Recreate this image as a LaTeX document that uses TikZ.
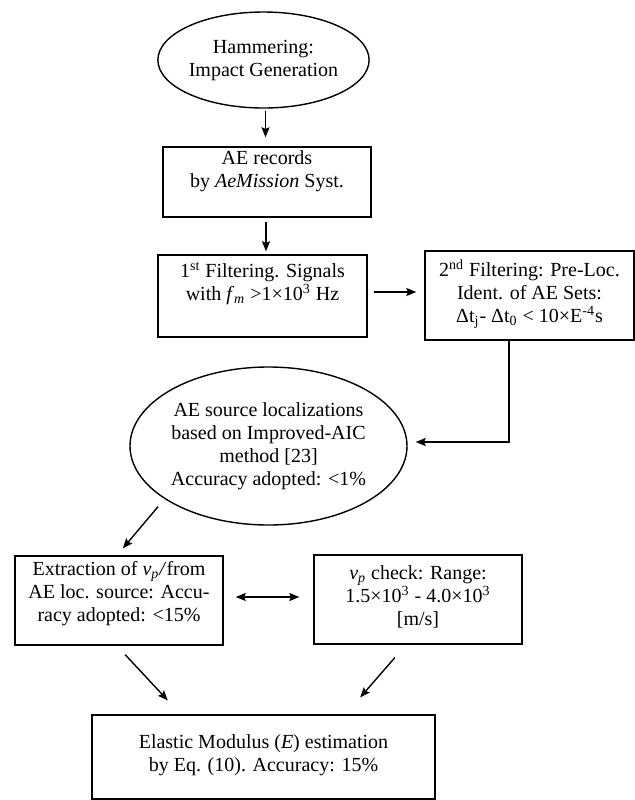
\documentclass[tikz,border=0pt]{standalone}
\usepackage{fontspec}
\setmainfont{Liberation Serif}
\usetikzlibrary{shapes.geometric,arrows.meta}
\begin{document}
\begin{tikzpicture}[x=0.5pt,y=-0.5pt,every node/.style={font=\fontsize{10}{11.5}\selectfont},
  box/.style={draw,line width=0.7pt,inner sep=0pt},
  oval/.style={draw,ellipse,line width=0.7pt,inner sep=0pt,align=center},
  txt/.style={anchor=north,align=center,inner sep=0pt},
  link/.style={line width=0.7pt},>={Stealth[length=5pt,width=4pt,inset=0.8pt]}]
\useasboundingbox (0,0) rectangle (635,800);
\node[oval,minimum width=98.5pt,minimum height=48pt] (hammer) at (263.5,60) {Hammering:\\Impact Generation};
\node[box,minimum width=104pt,minimum height=35pt,label={[txt,yshift=-2pt]north:AE records\\by \textit{AeMission} Syst.}] (rec) at (267,182) {};
\node[box,minimum width=104.5pt,minimum height=41pt,label={[txt,yshift=-4pt]north:1\textsuperscript{st} Filtering. Signals\\with \textit{f}\textsubscript{\textit{m}} >1×10\textsuperscript{3} Hz}] (filt1) at (262.5,296) {};
\node[box,minimum width=104.5pt,minimum height=44.5pt,label={[txt,yshift=-4.5pt]north:2\textsuperscript{nd} Filtering: Pre-Loc.\\Ident. of AE Sets:\\Δt\textsubscript{j}- Δt\textsubscript{0} < 10×E\textsuperscript{-4}s}] (filt2) at (529.5,295.5) {};
\node[oval,minimum width=138.5pt,minimum height=79pt] (aic) at (268.5,446) {AE source localizations\\based on Improved-AIC\\method [23]\\Accuracy adopted: <1\%};
\node[box,minimum width=104pt,minimum height=44.5pt,label={[txt,yshift=-3pt]north:Extraction of \textit{v\textsubscript{p}/}from\\AE loc. source: Accu-\\racy adopted: <15\%}] (extr) at (119,600.5) {};
\node[box,minimum width=104pt,minimum height=44.5pt,label={[txt,yshift=-5.5pt]north:\textit{v\textsubscript{p}} check: Range:\\1.5×10\textsuperscript{3} - 4.0×10\textsuperscript{3}\\{}[m/s]}] (check) at (418,599.5) {};
\node[box,minimum width=171.5pt,minimum height=42pt,label={[txt,yshift=-10pt]north:Elastic Modulus (\textit{E}) estimation\\by Eq. (10). Accuracy: 15\%}] (elast) at (263.5,757) {};
\draw[link,->,shorten <=1pt,shorten >=4.5pt] ([xshift=1pt]hammer.south) -- ([xshift=1pt]hammer.south |- rec.north);
\draw[link,->,shorten <=2pt,shorten >=1.5pt] ([xshift=-0.5pt]rec.south) -- ([xshift=-0.5pt]rec.south |- filt1.north);
\draw[link,->,shorten <=3pt,shorten >=4pt] ([yshift=2pt]filt1.east) -- ([yshift=2pt]filt1.east -| filt2.west);
\draw[link,->,shorten >=4pt] ([xshift=-10.25pt]filt2.south) |- ([yshift=2pt]aic.east);
\draw[link,->,shorten <=5pt,shorten >=4.5pt] (aic.207) -- ([xshift=-1pt]extr.north);
\draw[link,<->,shorten <=6pt,shorten >=7pt] ([yshift=1.75pt]extr.east) -- ([yshift=1.75pt]extr.east -| check.west);
\draw[link,->,shorten <=6.1pt,shorten >=9.5pt] ([xshift=-1.1pt]extr.south) -- ([xshift=-41.35pt]elast.north);
\draw[link,->,shorten <=8.55pt,shorten >=11.2pt] ([xshift=-5.95pt]check.south) -- ([xshift=41pt]elast.north);
\end{tikzpicture}
\end{document}
